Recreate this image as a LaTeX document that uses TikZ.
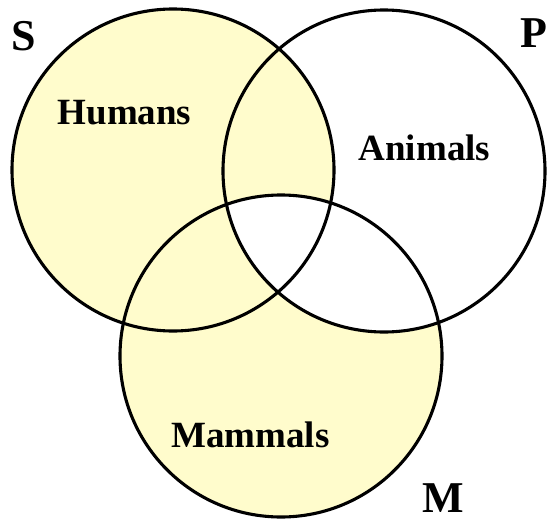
\documentclass[tikz,border=0pt]{standalone}
\usepackage{fontspec}
\setmainfont{Liberation Serif}
\definecolor{venn}{RGB}{255,252,204}
\begin{document}
\begin{tikzpicture}[x=1pt,y=-1pt,
  setc/.style={circle,minimum size=322pt,inner sep=0pt,draw=black,line width=3.1pt},
  lbl/.style={font=\fontsize{37}{40}\selectfont\bfseries,inner sep=0pt,anchor=base},
  letter/.style={font=\fontsize{44}{48}\selectfont\bfseries,inner sep=0pt,anchor=base}]
\useasboundingbox (0,0) rectangle (547,522);
\fill[white] (0,0) rectangle (547,522);
\fill[venn] (173,170) circle (161pt);
\fill[venn] (281,356) circle (161pt);
\begin{scope}
  \clip (384,171) circle (161pt);
  \fill[white] (281,356) circle (161pt);
\end{scope}
\node[setc] (S) at (173,170) {};
\node[setc] (P) at (384,171) {};
\node[setc] (M) at (281,356) {};
\node[lbl] (humans) at (124.5,124) {Humans};
\node[lbl] (animals) at (424.5,160) {Animals};
\node[lbl] (mammals) at (250.5,447) {Mammals};
\node[letter] (sl) at (24,50) {S};
\node[letter] (pl) at (534,47) {P};
\node[letter] (ml) at (443,512) {M};
\end{tikzpicture}
\end{document}
